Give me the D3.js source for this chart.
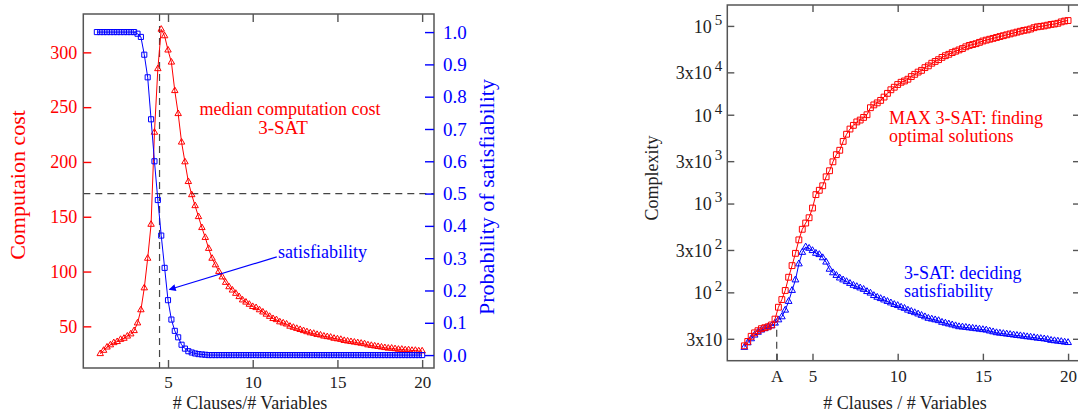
<!DOCTYPE html>
<html>
<head>
<meta charset="utf-8">
<script src="https://cdn.jsdelivr.net/npm/d3@7"></script>
<style>
body { margin: 0; background: #fff; }
svg { display: block; font-family: "Liberation Serif", "Times New Roman", serif; }
.axis path.domain { display: none; }
</style>
</head>
<body>
<svg width="1078" height="417"></svg>
<script>
// clause/variable ratios sampled (step 0.2)
var ratios = [1.0, 1.2, 1.4, 1.6, 1.8, 2.0, 2.2, 2.4, 2.6, 2.8,
  3.0, 3.2, 3.4, 3.6, 3.8, 4.0, 4.2, 4.4, 4.6, 4.8,
  5.0, 5.2, 5.4, 5.6, 5.8, 6.0, 6.2, 6.4, 6.6, 6.8,
  7.0, 7.2, 7.4, 7.6, 7.8, 8.0, 8.2, 8.4, 8.6, 8.8,
  9.0, 9.2, 9.4, 9.6, 9.8, 10.0, 10.2, 10.4, 10.6, 10.8,
  11.0, 11.2, 11.4, 11.6, 11.8, 12.0, 12.2, 12.4, 12.6, 12.8,
  13.0, 13.2, 13.4, 13.6, 13.8, 14.0, 14.2, 14.4, 14.6, 14.8,
  15.0, 15.2, 15.4, 15.6, 15.8, 16.0, 16.2, 16.4, 16.6, 16.8,
  17.0, 17.2, 17.4, 17.6, 17.8, 18.0, 18.2, 18.4, 18.6, 18.8,
  19.0, 19.2, 19.4, 19.6, 19.8, 20.0];
var satRatios = [0.8].concat(ratios);

// left panel : median computation cost (3-SAT)
var medianCost = [25, 28, 31, 33, 35, 36, 38, 39, 41, 43,
  46, 53, 65, 85, 112, 143, 227, 285, 321, 315,
  302, 291, 265, 244, 218, 200, 182, 170, 160, 150,
  140, 131, 121, 112, 106, 100, 95, 90, 86, 83,
  80, 77, 74, 72, 70, 68, 67, 65, 63, 61,
  59, 57, 56, 54, 53, 52, 50, 49, 48, 47,
  46, 45, 44, 43.5, 42.5, 42, 41, 40.5, 40, 39,
  38.5, 38, 37, 36.5, 36, 35.5, 35, 34.5, 34, 33,
  32.5, 32, 31.5, 31, 30.5, 30, 30, 29.5, 29, 29,
  28.5, 28.5, 28, 28, 27.5, 27.5];

// left panel : probability of satisfiability (starts at 0.8)
var satProb = [1, 1, 1, 1, 1, 1,
  1, 1, 1, 1, 1,
  1, 0.995, 0.985, 0.93, 0.86,
  0.73, 0.60, 0.48, 0.37, 0.27,
  0.17, 0.11, 0.075, 0.055, 0.032,
  0.02, 0.012, 0.008, 0.005, 0.003,
  0.002, 0.001, 0, 0, 0,
  0, 0, 0, 0, 0, 0, 0, 0, 0, 0,
  0, 0, 0, 0, 0, 0, 0, 0, 0, 0,
  0, 0, 0, 0, 0, 0, 0, 0, 0, 0,
  0, 0, 0, 0, 0, 0, 0, 0, 0, 0,
  0, 0, 0, 0, 0, 0, 0, 0, 0, 0,
  0, 0, 0, 0, 0, 0, 0, 0, 0, 0, 0];

// right panel : MAX 3-SAT complexity
var maxSatCost = [25, 28, 32, 35, 37, 39, 40, 41, 43, 50,
  68, 83, 105, 148, 200, 275, 390, 513, 603, 692,
  890, 1260, 1410, 1585, 2000, 2340, 2950, 3550, 3980, 5010,
  6030, 6900, 7590, 8300, 8710, 9330, 10000, 12000, 12900, 13600,
  14500, 15800, 17400, 19100, 20400, 21900, 23200, 24000, 25100, 26900,
  28500, 30200, 31600, 33900, 35500, 38000, 39800, 41700, 44200, 46200,
  47900, 50100, 51900, 53700, 55600, 58200, 60300, 61700, 63100, 65300,
  67600, 69200, 70800, 72400, 74100, 75900, 77600, 79400, 81300, 83200,
  85100, 87100, 89100, 90200, 92300, 95500, 97700, 98900, 100000, 102000,
  104000, 105000, 107000, 111000, 113500, 115000];

// right panel : 3-SAT complexity
var sat3Cost = [24, 27, 30, 33, 35.5, 37.6, 39, 41, 42, 45,
  49, 53, 63, 79, 105, 138, 209, 282, 324, 313,
  295, 275, 266, 245, 219, 182, 166, 155, 145, 138,
  132, 126, 120, 116, 112, 108, 102, 98, 92, 88,
  85, 82, 79, 76, 73, 71, 68, 66, 63, 61,
  59, 57, 55, 53, 51, 50, 49, 48, 46, 45,
  44, 43, 42, 41, 40.7, 40.3, 39.8, 39.4, 38.9, 38.5,
  38, 37.6, 36.7, 35.9, 35.1, 34.7, 34.3, 33.9, 33.5, 33.1,
  32.7, 32.4, 32, 31.6, 31.3, 30.9, 30.5, 30.2, 29.9, 29.5,
  28.8, 28.5, 28.2, 27.9, 27.5, 27.2];

var costTicks = [50, 100, 150, 200, 250, 300];
var probTicks = [0.0, 0.1, 0.2, 0.3, 0.4, 0.5, 0.6, 0.7, 0.8, 0.9, 1.0];
var ratioTicks = [5, 10, 15, 20];
var complexTicks = [30, 100, 300, 1000, 3000, 10000, 30000, 100000];
var complexBase = ["3x10", "10", "3x10", "10", "3x10", "10", "3x10", "10"];
var complexExp = ["", "2", "2", "3", "3", "4", "4", "5"];
var rightXTicks = [2.9, 5, 10, 15, 20];
var rightXLabels = ["A", "5", "10", "15", "20"];
var thresholdRatio = 4.5, halfProb = 0.5;
var pointA = 2.9, costAtA = 44;

var RED = "#ff0000", BLUE = "#0000ff", FRAME = "#555", INK = "#222";
var SERIF = "Liberation Serif, Times New Roman, serif";

var svg = d3.select("svg");

var defs = svg.append("defs");
defs.append("marker")
    .attr("id", "arrow")
    .attr("viewBox", "0 0 10 10")
    .attr("refX", 9).attr("refY", 5)
    .attr("markerWidth", 9).attr("markerHeight", 7)
    .attr("markerUnits", "userSpaceOnUse")
    .attr("orient", "auto")
  .append("path")
    .attr("d", "M0,0L10,5L0,10z")
    .attr("fill", BLUE);

//Draws a line and open markers for one series
function drawSeries(g, xs, ys, xScale, yScale, color, shape, size) {
  var pts = xs.map(function(r, i) { return [xScale(r), yScale(ys[i])]; });
  g.append("path")
      .attr("d", d3.line()(pts))
      .attr("fill", "none")
      .attr("stroke", color)
      .attr("stroke-width", 1);
  g.selectAll(null)
      .data(pts)
    .enter().append("path")
      .attr("transform", function(p) { return "translate(" + p[0] + "," + p[1] + ")"; })
      .attr("d", d3.symbol().type(shape).size(size))
      .attr("fill", "none")
      .attr("stroke", color)
      .attr("stroke-width", 1);
}

//restyle an axis group (d3 forces sans-serif on it)
function styleAxis(g, tickColor, textColor, fontSize) {
  g.attr("font-family", SERIF).attr("font-size", fontSize);
  g.selectAll("line").attr("stroke", tickColor).attr("stroke-width", 1.4);
  g.selectAll("text").attr("fill", textColor);
}

// ---------- left panel ----------
var L = {left: 83.3, right: 434, top: 14, bottom: 368};

var xL = d3.scaleLinear().domain([0, 20.7]).range([L.left, L.right]),
    yCost = d3.scaleLinear().domain([12, 335]).range([L.bottom, L.top]),
    yProb = d3.scaleLinear().domain([-0.04, 1.056]).range([L.bottom, L.top]);

var left = svg.append("g").attr("class", "left");

//dashed guides: threshold ratio and 50% satisfiability
left.append("line")
    .attr("x1", xL(thresholdRatio)).attr("x2", xL(thresholdRatio))
    .attr("y1", L.top).attr("y2", L.bottom)
    .attr("stroke", "#444").attr("stroke-width", 1.2).attr("stroke-dasharray", "7,5");
left.append("line")
    .attr("x1", L.left).attr("x2", L.right)
    .attr("y1", yProb(halfProb)).attr("y2", yProb(halfProb))
    .attr("stroke", "#444").attr("stroke-width", 1.2).attr("stroke-dasharray", "7,5");

drawSeries(left, ratios, medianCost, xL, yCost, RED, d3.symbolTriangle, 18);
drawSeries(left, satRatios, satProb, xL, yProb, BLUE, d3.symbolSquare, 26);

left.append("rect")
    .attr("x", L.left).attr("y", L.top)
    .attr("width", L.right - L.left).attr("height", L.bottom - L.top)
    .attr("fill", "none").attr("stroke", FRAME).attr("stroke-width", 1.5);

left.append("g")
    .attr("class", "axis")
    .attr("transform", "translate(0," + L.bottom + ")")
    .call(d3.axisBottom(xL).tickValues(ratioTicks).tickSize(-8).tickPadding(8))
    .call(styleAxis, FRAME, INK, 17);

left.append("g")
    .attr("class", "axis")
    .attr("transform", "translate(0," + L.top + ")")
    .call(d3.axisTop(xL).tickValues(ratioTicks).tickSize(-8).tickFormat(""))
    .call(styleAxis, FRAME, INK, 17);

left.append("g")
    .attr("class", "axis")
    .attr("transform", "translate(" + L.left + ",0)")
    .call(d3.axisLeft(yCost).tickValues(costTicks).tickSize(-8).tickPadding(6))
    .call(styleAxis, RED, RED, 18);

left.append("g")
    .attr("class", "axis")
    .attr("transform", "translate(" + L.right + ",0)")
    .call(d3.axisRight(yProb).tickValues(probTicks).tickSize(-9).tickPadding(9).tickFormat(d3.format(".1f")))
    .call(styleAxis, BLUE, BLUE, 19);

left.append("text")
    .attr("transform", "translate(25,185) rotate(-90)")
    .attr("text-anchor", "middle")
    .attr("fill", RED).attr("font-size", 22)
    .text("Computaion cost");

left.append("text")
    .attr("transform", "translate(494,197) rotate(-90)")
    .attr("text-anchor", "middle")
    .attr("fill", BLUE).attr("font-size", 22)
    .text("Probability of satisfiability");

left.append("text")
    .attr("x", 250).attr("y", 409)
    .attr("text-anchor", "middle")
    .attr("fill", INK).attr("font-size", 18)
    .text("# Clauses/# Variables");

left.append("text")
    .attr("x", 290).attr("y", 115)
    .attr("text-anchor", "middle")
    .attr("fill", RED).attr("font-size", 18)
    .text("median computation cost");
left.append("text")
    .attr("x", 283).attr("y", 134)
    .attr("text-anchor", "middle")
    .attr("fill", RED).attr("font-size", 19)
    .text("3-SAT");

left.append("text")
    .attr("x", 278).attr("y", 258)
    .attr("fill", BLUE).attr("font-size", 18)
    .text("satisfiability");
left.append("line")
    .attr("x1", xL(11.42)).attr("y1", yProb(0.304))
    .attr("x2", xL(5.08)).attr("y2", yProb(0.203))
    .attr("stroke", BLUE).attr("stroke-width", 1.2)
    .attr("marker-end", "url(#arrow)");

// ---------- right panel ----------
var R = {left: 727.3, right: 1080, top: 5, bottom: 360.7};

var xR = d3.scaleLinear().domain([0, 20.7]).range([R.left, R.right]),
    yR = d3.scaleLog().domain([17, 172000]).range([R.bottom, R.top]);

var right = svg.append("g").attr("class", "right");

right.append("line")
    .attr("x1", xR(pointA)).attr("x2", xR(pointA))
    .attr("y1", R.bottom).attr("y2", yR(costAtA))
    .attr("stroke", "#444").attr("stroke-width", 1.2).attr("stroke-dasharray", "7,5");

drawSeries(right, ratios, sat3Cost, xR, yR, BLUE, d3.symbolTriangle, 20);
drawSeries(right, ratios, maxSatCost, xR, yR, RED, d3.symbolSquare, 34);

right.append("rect")
    .attr("x", R.left).attr("y", R.top)
    .attr("width", R.right - R.left).attr("height", R.bottom - R.top)
    .attr("fill", "none").attr("stroke", FRAME).attr("stroke-width", 1.5);

right.append("g")
    .attr("class", "axis")
    .attr("transform", "translate(0," + R.bottom + ")")
    .call(d3.axisBottom(xR).tickValues(rightXTicks).tickSize(-7).tickPadding(9)
      .tickFormat(function(d, i) { return rightXLabels[i]; }))
    .call(styleAxis, FRAME, INK, 17);

right.append("g")
    .attr("class", "axis")
    .attr("transform", "translate(0," + R.top + ")")
    .call(d3.axisTop(xR).tickValues(ratioTicks).tickSize(-7).tickFormat(""))
    .call(styleAxis, FRAME, INK, 17);

right.append("g")
    .attr("class", "axis")
    .attr("transform", "translate(" + R.left + ",0)")
    .call(d3.axisLeft(yR).tickValues(complexTicks).tickSize(-7).tickPadding(5).tickFormat(""))
    .call(styleAxis, FRAME, INK, 18)
    .call(function(g) {
      g.selectAll(".tick text").each(function(d, i) {
        var t = d3.select(this).attr("dy", "0.35em");
        t.append("tspan").text(complexBase[i]);
        if (complexExp[i]) {
          t.append("tspan").attr("dx", 3).attr("dy", -8).attr("font-size", 15).text(complexExp[i]);
        }
      });
    });

right.append("g")
    .attr("class", "axis")
    .attr("transform", "translate(" + R.right + ",0)")
    .call(d3.axisRight(yR).tickValues(complexTicks).tickSize(-7).tickFormat(""))
    .call(styleAxis, FRAME, INK, 17);

right.append("text")
    .attr("transform", "translate(658,178) rotate(-90)")
    .attr("text-anchor", "middle")
    .attr("fill", INK).attr("font-size", 18)
    .text("Complexity");

right.append("text")
    .attr("x", 905).attr("y", 409)
    .attr("text-anchor", "middle")
    .attr("fill", INK).attr("font-size", 18)
    .text("# Clauses / # Variables");

right.append("text")
    .attr("x", 889).attr("y", 124)
    .attr("fill", RED).attr("font-size", 18)
    .text("MAX 3-SAT: finding");
right.append("text")
    .attr("x", 889).attr("y", 142)
    .attr("fill", RED).attr("font-size", 18)
    .text("optimal solutions");

right.append("text")
    .attr("x", 904).attr("y", 279)
    .attr("fill", BLUE).attr("font-size", 18)
    .text("3-SAT: deciding");
right.append("text")
    .attr("x", 904).attr("y", 297)
    .attr("fill", BLUE).attr("font-size", 18)
    .text("satisfiability");
</script>
</body>
</html>
